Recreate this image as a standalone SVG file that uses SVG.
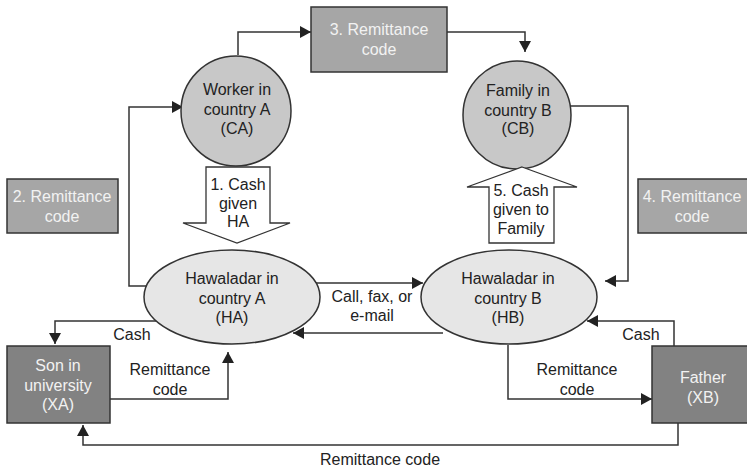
<svg xmlns="http://www.w3.org/2000/svg" width="747" height="468" viewBox="0 0 747 468">
<style>
text{font-family:"Liberation Sans",Arial,sans-serif;font-size:16px;fill:#222;text-anchor:middle}
.w{fill:#f2f2f2}
.ln{fill:none;stroke:#333;stroke-width:1.5}
.box{fill:#a6a6a6;stroke:#333;stroke-width:1.5}
.dbox{fill:#828282;stroke:#333;stroke-width:1.5}
.circ{fill:#c8c8c8;stroke:#333;stroke-width:1.5}
.ell{fill:#e6e6e6;stroke:#333;stroke-width:1.5}
.blk{fill:#fff;stroke:#333;stroke-width:1.3}
</style>
<defs>
<marker id="ah" markerUnits="userSpaceOnUse" markerWidth="12" markerHeight="12" refX="11" refY="6" orient="auto">
<path d="M0,0 L11,6 L0,12 z" fill="#222"/>
</marker>
</defs>
<rect width="747" height="468" fill="#fff"/>
<g id="connectors">
<path class="ln" d="M238,55 V32 H311" marker-end="url(#ah)"/>
<path class="ln" d="M447,32 H525 V52" marker-end="url(#ah)"/>
<path class="ln" d="M147,286 H129 V107 H183" marker-end="url(#ah)"/>
<path class="ln" d="M570,106 H628 V281 H605" marker-end="url(#ah)"/>
<path class="ln" d="M313,283 H423" marker-end="url(#ah)"/>
<path class="ln" d="M443,333 H293" marker-end="url(#ah)"/>
<path class="ln" d="M156,321 H55 V344" marker-end="url(#ah)"/>
<path class="ln" d="M110,399 H228 V352" marker-end="url(#ah)"/>
<path class="ln" d="M674,346 V321 H587" marker-end="url(#ah)"/>
<path class="ln" d="M508,345 V399 H652" marker-end="url(#ah)"/>
<path class="ln" d="M678,423 V445 H83 V425" marker-end="url(#ah)"/>
<text x="372" y="302">Call, fax, or</text>
<text x="372" y="321">e-mail</text>
<text x="132" y="340">Cash</text>
<text x="170" y="375">Remittance</text>
<text x="170" y="395">code</text>
<text x="641" y="340">Cash</text>
<text x="577" y="375">Remittance</text>
<text x="577" y="395">code</text>
<text x="380" y="465">Remittance code</text>
</g>
<g id="CA">
<circle class="circ" cx="236" cy="111" r="55"/>
<text x="237" y="95">Worker in</text>
<text x="237" y="115">country A</text>
<text x="237" y="134">(CA)</text>
</g>
<g id="CB">
<circle class="circ" cx="517" cy="115" r="54"/>
<text x="518" y="96">Family in</text>
<text x="518" y="116">country B</text>
<text x="518" y="134">(CB)</text>
</g>
<g id="R3">
<rect class="box" x="311" y="7" width="136" height="65"/>
<text class="w" x="379" y="35">3. Remittance</text>
<text class="w" x="379" y="55">code</text>
</g>
<g id="R2">
<rect class="box" x="7" y="179" width="111" height="54"/>
<text class="w" x="62" y="202">2. Remittance</text>
<text class="w" x="62" y="222">code</text>
</g>
<g id="R4">
<rect class="box" x="638" y="179" width="110" height="54"/>
<text class="w" x="692" y="202">4. Remittance</text>
<text class="w" x="692" y="222">code</text>
</g>
<g id="A1">
<polygon class="blk" points="206,167 270,167 270,223 290,223 237,243 183,223 206,223"/>
<text x="238" y="190">1. Cash</text>
<text x="238" y="209">given</text>
<text x="238" y="227">HA</text>
</g>
<g id="A5">
<polygon class="blk" points="522,167 577,187 554,187 554,243 489,243 489,187 467,187"/>
<text x="521" y="196">5. Cash</text>
<text x="521" y="215">given to</text>
<text x="521" y="234">Family</text>
</g>
<g id="HA">
<ellipse class="ell" cx="232" cy="297" rx="88" ry="47"/>
<text x="232" y="284">Hawaladar in</text>
<text x="232" y="304">country A</text>
<text x="232" y="323">(HA)</text>
</g>
<g id="HB">
<ellipse class="ell" cx="509" cy="297" rx="88" ry="47"/>
<text x="508" y="284">Hawaladar in</text>
<text x="508" y="304">country B</text>
<text x="508" y="323">(HB)</text>
</g>
<g id="XA">
<rect class="dbox" x="7" y="346" width="103" height="77"/>
<text class="w" x="58" y="371">Son in</text>
<text class="w" x="58" y="391">university</text>
<text class="w" x="58" y="410">(XA)</text>
</g>
<g id="XB">
<rect class="dbox" x="652" y="346" width="96" height="77"/>
<text class="w" x="703" y="383">Father</text>
<text class="w" x="703" y="403">(XB)</text>
</g>
</svg>
